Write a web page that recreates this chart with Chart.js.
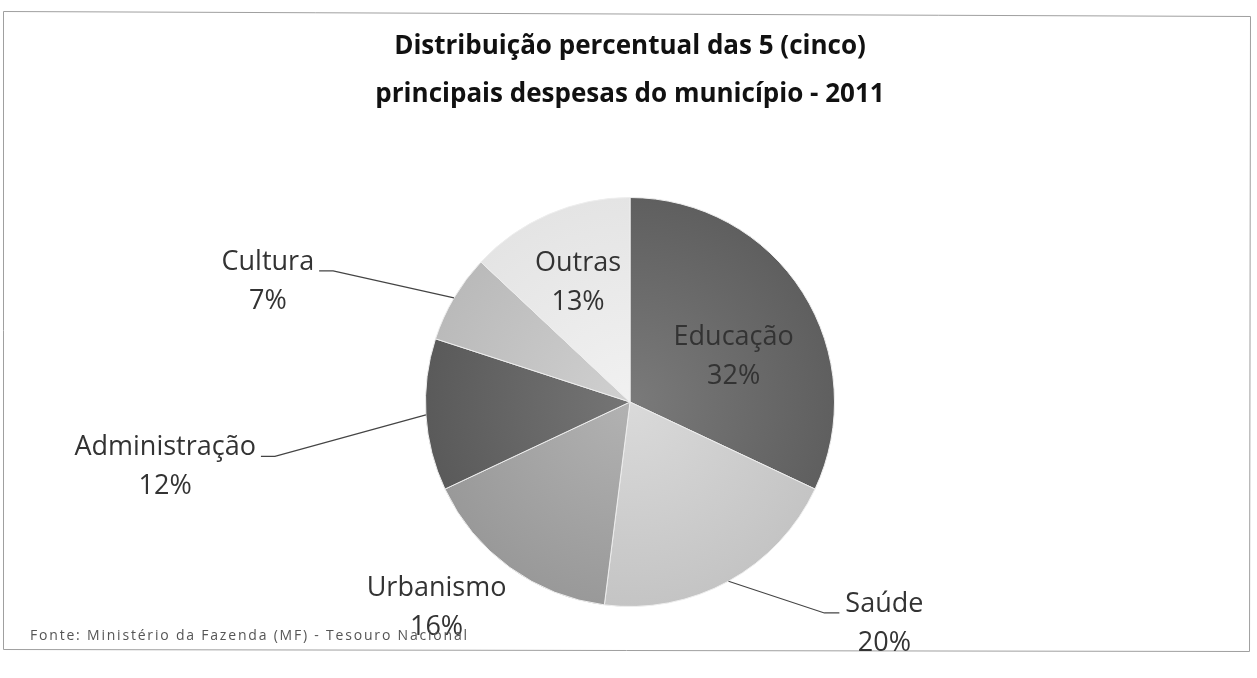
<!DOCTYPE html>
<html lang="pt-BR">
<head>
<meta charset="utf-8">
<title>Despesas do município - 2011</title>
<script src="https://cdn.jsdelivr.net/npm/chart.js@4/dist/chart.umd.min.js"></script>
<style>
  html, body { margin: 0; padding: 0; background: #fff; }
  #wrap { position: relative; width: 1257px; height: 678px; }
</style>
</head>
<body>
<div id="wrap"><canvas id="despesasChart" width="1257" height="678"></canvas></div>
<script>
const categorias = ['Educação', 'Saúde', 'Urbanismo', 'Administração', 'Cultura', 'Outras'];
const percentuais = [32, 20, 16, 12, 7, 13];

// tons de cinza: base na borda, claro perto do centro
const coresBase = ['#5f5f5f', '#c4c4c4', '#999999', '#5a5a5a', '#bababa', '#e4e4e4'];
const coresClaras = ['#7a7a7a', '#dadada', '#b2b2b2', '#757575', '#d0d0d0', '#f1f1f1'];

// posição dos rótulos em raios a partir do centro; leader = linha de chamada
const rotulosPos = [
  { dx: 0.507, dy: -0.22, leader: false },
  { dx: 1.244, dy: 1.083, leader: true },
  { dx: -0.946, dy: 1.005, leader: false },
  { dx: -2.273, dy: 0.317, leader: true },
  { dx: -1.771, dy: -0.59, leader: true },
  { dx: -0.254, dy: -0.585, leader: false }
];

const FONTE_ROTULO = '27px "Open Sans", Lato, sans-serif';
const ENTRELINHA = 39;

function corFatia(ctx) {
  const chart = ctx.chart;
  const area = chart.chartArea;
  if (!area) return coresBase[ctx.dataIndex];
  const cx = (area.left + area.right) / 2;
  const cy = (area.top + area.bottom) / 2;
  const r = Math.min(area.width, area.height) / 2;
  const g = chart.ctx.createRadialGradient(cx, cy, 0, cx, cy, r);
  g.addColorStop(0, coresClaras[ctx.dataIndex]);
  g.addColorStop(1, coresBase[ctx.dataIndex]);
  return g;
}

const moldura = {
  id: 'moldura',
  beforeDraw(chart) {
    const c = chart.ctx;
    c.save();
    c.fillStyle = '#fff';
    c.fillRect(0, 0, chart.width, chart.height);
    c.strokeStyle = '#a0a0a0';
    c.lineWidth = 1;
    c.beginPath();
    c.moveTo(3.5, 11.5);
    c.lineTo(1250.5, 16.5);
    c.lineTo(1249.5, 651.5);
    c.lineTo(3.5, 649.5);
    c.closePath();
    c.stroke();
    c.restore();
  }
};

const rotulos = {
  id: 'rotulos',
  afterDatasetsDraw(chart) {
    const c = chart.ctx;
    const meta = chart.getDatasetMeta(0);
    c.save();
    c.font = FONTE_ROTULO;
    c.textAlign = 'center';
    c.textBaseline = 'middle';
    meta.data.forEach((arc, i) => {
      const p = arc.getProps(['x', 'y', 'startAngle', 'endAngle', 'outerRadius'], true);
      const pos = rotulosPos[i];
      const bx = p.x + pos.dx * p.outerRadius;
      const by = p.y + pos.dy * p.outerRadius;
      const l1 = categorias[i];
      const l2 = percentuais[i] + '%';
      const y1 = by - ENTRELINHA / 2;
      const y2 = by + ENTRELINHA / 2;

      if (pos.leader) {
        const meio = (p.startAngle + p.endAngle) / 2;
        const ex = p.x + Math.cos(meio) * p.outerRadius;
        const ey = p.y + Math.sin(meio) * p.outerRadius;
        const w = c.measureText(l1).width;
        const ly = y1 + 9;
        let a, b;
        if (bx < p.x) {
          a = bx + w / 2 + 5;
          b = a + 14;
        } else {
          a = bx - w / 2 - 6;
          b = a - 15;
        }
        c.strokeStyle = '#444';
        c.lineWidth = 1.2;
        c.beginPath();
        c.moveTo(a, ly);
        c.lineTo(b, ly);
        c.lineTo(ex, ey);
        c.stroke();
      }

      c.fillStyle = '#333';
      c.fillText(l1, bx, y1);
      c.fillText(l2, bx, y2);
    });

    // fonte dos dados
    c.font = '14px "Open Sans", sans-serif';
    c.letterSpacing = '1.8px';
    c.textAlign = 'left';
    c.fillStyle = '#555';
    c.fillText('Fonte: Ministério da Fazenda (MF) - Tesouro Nacional', 30, 636);
    c.restore();
  }
};

new Chart(document.getElementById('despesasChart'), {
  type: 'pie',
  data: {
    labels: categorias,
    datasets: [{
      data: percentuais,
      backgroundColor: corFatia,
      borderColor: '#eeeeee',
      borderWidth: 1
    }]
  },
  options: {
    responsive: false,
    animation: false,
    layout: { padding: { top: 0, bottom: 71, left: 3, right: 0 } },
    plugins: {
      legend: { display: false },
      tooltip: { enabled: false },
      title: {
        display: true,
        text: ['Distribuição percentual das 5 (cinco)', 'principais despesas do município - 2011'],
        color: '#111',
        font: { family: '"Open Sans", Lato, sans-serif', size: 26, weight: 'bold', lineHeight: 48 / 26 },
        padding: { top: 23, bottom: 78 }
      }
    }
  },
  plugins: [moldura, rotulos]
});
</script>
</body>
</html>
